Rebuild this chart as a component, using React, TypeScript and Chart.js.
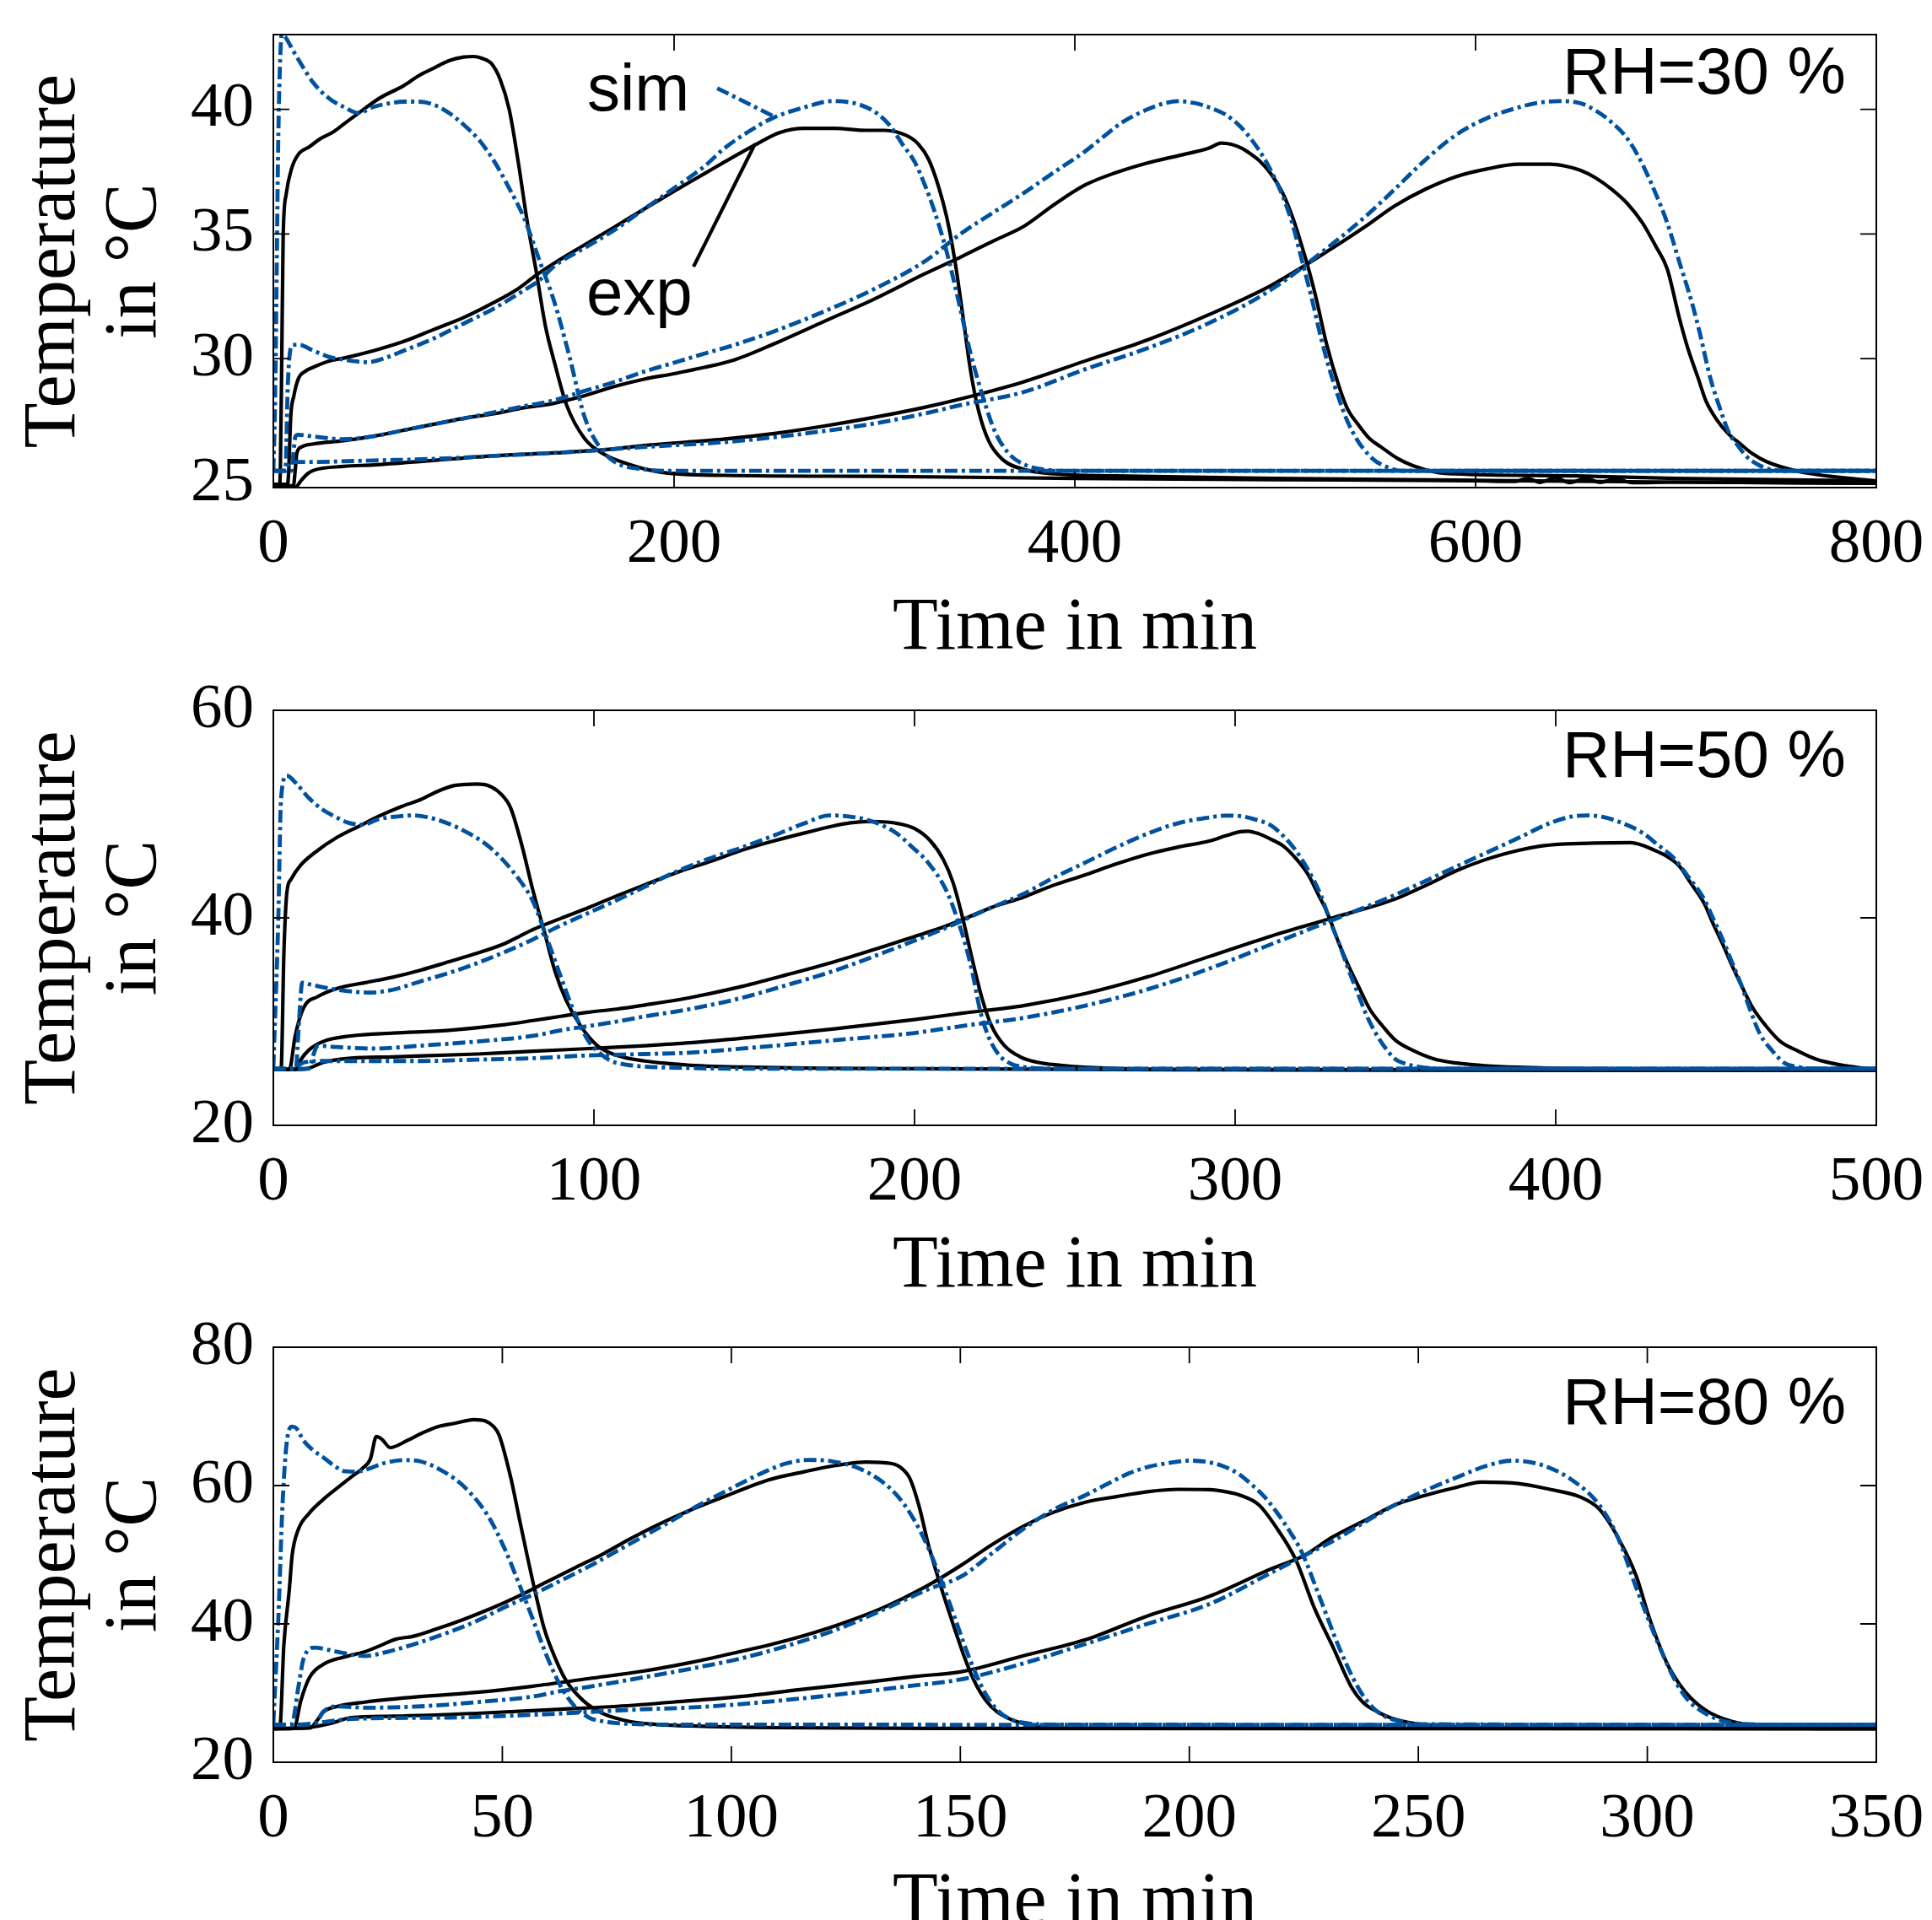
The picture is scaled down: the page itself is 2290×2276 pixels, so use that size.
import React, { useEffect, useRef } from 'react';
import { Chart, registerables } from 'chart.js';

Chart.register(...registerables);

type Pt = [number, number];

// ===================== RH = 30 % =====================
const rh30ExpA: Pt[] = [[0,24.9],[3,24.9],[3.5,25.6],[4.2,30.0],[4.9,34.9],[6.4,36.6],[9,37.6],[12.5,38.2],[18,38.5],[23,38.8],[30,39.1],[35,39.4],[42.5,39.85],[53,40.45],[65,40.95],[72.6,41.35],[80,41.65],[87.6,41.95],[95,42.1],[100,42.12],[104,42.05],[108.7,41.85],[113.2,41.2],[117.7,40.0],[122.2,37.9],[126.7,35.5],[131.3,33.45],[135.8,31.3],[140.3,29.85],[146.3,28.15],[155.3,26.8],[164.3,26.2],[177.9,25.75],[193,25.45],[225,25.32],[300,25.28],[400,25.2],[500,25.15],[600,25.1],[620,25.08],[626,25.2],[632,25.04],[640,25.22],[647,25.03],[655,25.2],[662,25.04],[670,25.18],[678,25.03],[700,25.05],[800,25.0]];
const rh30SimA: Pt[] = [[0,25.5],[0.8,28],[1.6,33],[2.4,38.5],[3.2,41.5],[4.2,43.0],[6,42.9],[8,42.63],[11,42.2],[14,41.8],[20,41.06],[27.5,40.46],[35,40.1],[42.5,39.86],[50,40.1],[57.6,40.24],[65,40.31],[72.6,40.31],[80,40.19],[87.6,39.86],[95.2,39.37],[102.7,38.77],[110.2,37.92],[117.7,36.84],[125.2,35.63],[132.8,33.94],[140.3,32.26],[147.8,30.08],[155.3,27.67],[162.8,26.46],[170.3,25.86],[185,25.56],[200,25.5],[800,25.5]];
const rh30ExpB: Pt[] = [[0,24.9],[7,24.9],[7.6,25.4],[8.7,27.7],[10.2,28.5],[12.5,29.2],[16,29.5],[20,29.66],[27.5,29.9],[35,30.02],[50,30.32],[65,30.69],[80,31.17],[95,31.65],[110,32.25],[122,32.8],[131,33.34],[140,33.82],[155,34.55],[170,35.27],[185,36.0],[200,36.72],[215.5,37.44],[224.5,37.86],[240.3,38.57],[252.6,39.07],[265,39.24],[280,39.24],[296,39.16],[305,39.16],[316,38.95],[322,38.6],[327,38.0],[332,36.9],[336,35.7],[340,34.0],[344,31.8],[348,29.5],[352,27.9],[357,26.7],[364,25.95],[375,25.55],[390,25.38],[420,25.3],[500,25.2],[600,25.12],[700,25.05],[800,25.0]];
const rh30SimB: Pt[] = [[0,25.5],[6,25.5],[7.2,28.9],[8.7,30.45],[10,30.55],[12.5,30.56],[20,30.32],[27.5,30.08],[35,29.96],[47,29.86],[57.6,30.08],[65,30.32],[80,30.81],[95,31.41],[110,32.01],[125,32.74],[133,33.16],[140,33.7],[155,34.43],[170,35.15],[185,36.0],[200,36.84],[215.5,37.74],[224.5,38.4],[237,39.1],[249.4,39.66],[265,40.08],[278.8,40.33],[290,40.25],[296,40.08],[302,39.8],[308,39.32],[314,38.6],[320,37.9],[325,37.0],[330,35.9],[336,34.3],[342,32.3],[348,30.2],[354,28.5],[360,27.1],[367,26.2],[375,25.75],[385,25.55],[400,25.5],[800,25.5]];
const rh30ExpC: Pt[] = [[0,24.9],[10,24.9],[11,25.6],[11.7,26.2],[14,26.46],[20,26.58],[35,26.71],[50,26.89],[65,27.13],[80,27.37],[95,27.61],[110,27.79],[125,28.03],[140,28.21],[155,28.51],[170,28.88],[185,29.18],[200,29.4],[215,29.65],[230,29.95],[250,30.6],[275,31.5],[300,32.4],[325,33.4],[343.6,34.1],[360,34.75],[374.4,35.3],[390,36.2],[405.2,36.97],[420,37.45],[436.2,37.85],[452,38.15],[467,38.45],[473,38.65],[478,38.6],[483,38.45],[488,38.2],[492,37.95],[498,37.4],[504,36.6],[509,35.6],[513,34.6],[517,33.5],[520.5,32.4],[525.6,30.6],[531.8,28.9],[536,28.0],[541,27.4],[547,26.8],[553,26.45],[561,26.0],[569,25.7],[580,25.45],[590,25.38],[650,25.3],[700,25.2],[800,25.1]];
const rh30SimC: Pt[] = [[0,25.5],[9,25.5],[10,26.2],[11,26.88],[12.5,26.95],[20,26.88],[35,26.77],[50,26.89],[65,27.13],[80,27.37],[95,27.6],[110,27.85],[125,28.09],[140,28.33],[155,28.7],[170,29.06],[185,29.48],[200,29.84],[215,30.2],[230,30.55],[250,31.1],[275,31.9],[300,32.8],[325,33.9],[343.6,35.04],[360,35.9],[374.4,36.64],[390,37.5],[405.2,38.32],[415,38.95],[423.8,39.49],[436.2,40.0],[445,40.25],[451.6,40.33],[460,40.25],[467,40.08],[475,39.8],[482.5,39.32],[489,38.7],[494.9,37.98],[500,37.2],[504,36.47],[509,35.3],[513.3,33.95],[518,32.5],[522.6,30.92],[527,29.6],[531.8,28.4],[536,27.5],[541.1,26.72],[546,26.2],[550.3,25.88],[556,25.65],[562.7,25.5],[800,25.5]];
const rh30ExpD: Pt[] = [[0,24.85],[11,24.85],[14,25.13],[17,25.38],[20,25.52],[35,25.68],[50,25.74],[80,25.92],[110,26.1],[140,26.22],[164,26.34],[185,26.52],[224.5,26.77],[250,27.0],[275,27.3],[300,27.65],[325,28.05],[343.6,28.4],[374.4,29.07],[405.2,29.91],[436.2,30.75],[467,31.77],[498,32.94],[528.8,34.45],[545,35.3],[559.7,36.13],[575,36.8],[590.5,37.31],[605,37.6],[621.5,37.8],[637,37.8],[645,37.72],[652.2,37.56],[660,37.25],[667.8,36.8],[676,36.2],[683.2,35.46],[690,34.5],[695.6,33.61],[701.8,31.6],[706,30.4],[711,29.24],[715,28.3],[720.3,27.56],[726,27.0],[732.6,26.55],[738,26.2],[745,25.88],[760,25.5],[776,25.29],[800,25.1]];
const rh30SimD: Pt[] = [[0,25.5],[6,25.5],[7.5,25.75],[8.7,25.86],[20,25.86],[50,25.92],[80,25.98],[110,26.1],[140,26.22],[164,26.34],[185,26.46],[224.5,26.65],[250,26.85],[275,27.1],[300,27.4],[325,27.8],[343.6,28.15],[374.4,28.66],[405.2,29.58],[436.2,30.42],[467,31.43],[498,32.77],[528.8,34.62],[545,35.7],[559.7,36.8],[575,37.98],[590.5,38.99],[606,39.66],[621.5,40.08],[630,40.25],[641.5,40.33],[652.2,40.25],[660,39.95],[667.8,39.49],[676,38.8],[683.2,37.81],[690,36.6],[695.6,35.46],[702,33.8],[707.9,32.27],[712,31.0],[717.1,29.24],[722,28.0],[726.3,27.06],[731,26.5],[735.6,26.05],[741,25.75],[748,25.54],[760,25.5],[800,25.5]];
const rh30XTicks = [0, 200, 400, 600, 800];
const rh30YTicks = [25, 30, 35, 40];
// annotation leader lines ("sim" and "exp") in data units
const simLeader: Pt[] = [[221.5, 40.85], [251, 39.67]];
const expLeader: Pt[] = [[209.7, 33.69], [240.4, 38.62]];

// ===================== RH = 50 % =====================
const rh50ExpA: Pt[] = [[0,25.4],[2.4,25.4],[3.3,36.7],[4.2,42.4],[5.5,43.7],[8.5,45.07],[12.9,46.28],[19.9,47.76],[26.8,48.84],[33,49.8],[40,50.73],[46,51.4],[51.3,52.2],[56.5,52.75],[60,52.85],[63.5,52.9],[67,52.75],[70.5,52.08],[74,50.6],[77.5,47.0],[81,42.6],[84.4,38.8],[87.9,34.8],[91.4,32.0],[95.8,29.6],[101,27.7],[107.1,26.74],[115.9,26.2],[124.6,25.93],[130,25.79],[150,25.6],[200,25.45],[300,25.35],[400,25.3],[500,25.3]];
const rh50SimA: Pt[] = [[0,25.6],[1.5,39.4],[2.4,51.5],[4.2,53.7],[7,53.0],[11.1,51.54],[15,50.5],[19.9,49.65],[23,49.2],[27.7,48.98],[33,49.52],[38,49.75],[43.4,49.87],[50.4,49.52],[59.1,48.44],[67.9,46.69],[76.6,43.72],[81,41.57],[85.3,38.06],[89.7,34.28],[94,30.78],[98.4,28.08],[102,26.9],[105.4,26.2],[110,25.85],[115.9,25.66],[130,25.52],[150,25.45],[500,25.45]];
const rh50ExpB: Pt[] = [[0,25.4],[5,25.4],[6.8,28.6],[9.4,31.32],[13.8,32.4],[19.9,33.2],[28.6,33.75],[37.3,34.28],[46,34.96],[54.8,35.77],[63.5,36.58],[72.2,37.52],[76.6,38.19],[81,38.87],[89.7,39.95],[98.4,41.0],[107,42.1],[116,43.2],[127,44.5],[137,45.5],[146,46.5],[156,47.4],[166,48.2],[174,48.8],[180,49.15],[185,49.28],[190,49.25],[194.6,49.1],[200,48.6],[205,47.4],[209,45.6],[212,43.4],[215,40.0],[218,36.0],[221,32.3],[224,29.6],[228,27.7],[233,26.6],[238,26.1],[245,25.8],[253,25.6],[275,25.4],[500,25.3]];
const rh50SimB: Pt[] = [[0,25.45],[7,25.45],[8,30],[9,33.75],[11.1,33.61],[19.9,33.07],[30.3,32.8],[37.3,33.07],[46,33.88],[54.8,34.69],[63.5,35.63],[72.2,36.71],[81,37.92],[85.3,38.6],[89.7,39.27],[98.4,40.49],[107.1,41.7],[115.9,43.0],[124.6,44.3],[135,45.6],[146.3,46.8],[155,47.8],[165.6,49.1],[173.4,49.87],[180,49.75],[185,49.47],[190,48.9],[194.6,48.1],[199,46.9],[204.2,45.33],[210,42.58],[213,40.2],[215.8,37.5],[218,34.8],[220.5,31.0],[223,28.6],[226.3,26.8],[230,25.95],[234,25.63],[245,25.45],[500,25.45]];
const rh50ExpC: Pt[] = [[0,25.4],[7,25.4],[8.5,26.3],[11.1,27.27],[15.5,28.08],[24.2,28.62],[37.3,28.89],[54.8,29.16],[72.2,29.7],[81,30.1],[89.7,30.51],[98.4,30.91],[107.1,31.2],[115.9,31.6],[129.8,32.3],[145,33.3],[160,34.5],[175.3,35.8],[190,37.2],[200,38.2],[208,39.0],[214.7,39.8],[224,41.0],[234,42.0],[243,43.1],[253.3,44.15],[263,45.2],[272.6,46.12],[282,46.8],[291.9,47.4],[297,47.9],[301.6,48.3],[304,48.35],[307.4,48.1],[311,47.6],[315.1,46.9],[319,45.7],[322.8,44.15],[326,42.2],[328.6,40.6],[332.5,37.45],[335.5,35.3],[338.3,33.5],[342,31.2],[346,29.57],[350,28.2],[355.6,27.2],[362,26.4],[369.1,26.0],[378,25.75],[388.5,25.6],[410,25.45],[500,25.35]];
const rh50SimC: Pt[] = [[0,25.45],[11,25.45],[12.5,26.8],[13.8,27.68],[19.9,27.55],[31.2,27.4],[46,27.68],[63.5,28.08],[81,28.62],[89.7,29.16],[98.4,29.57],[107.1,30.0],[115.9,30.5],[129.8,31.2],[145,32.2],[160,33.5],[175,34.9],[190,36.6],[200,37.8],[208,38.8],[214.7,39.7],[224,41.0],[234,42.3],[243,43.8],[253.3,45.33],[263,46.8],[272.6,48.1],[282,49.1],[291.9,49.67],[297,49.85],[301.6,49.8],[306,49.5],[311.2,48.9],[315,47.9],[318.9,46.5],[322.8,44.6],[326.7,42.2],[329.5,39.8],[332.5,37.45],[335.5,34.9],[338.3,32.7],[341,30.6],[344,28.8],[347,27.4],[349.8,26.42],[353,25.95],[357.6,25.63],[365,25.45],[500,25.45]];
const rh50ExpD: Pt[] = [[0,25.4],[8.5,25.4],[11,25.5],[15.5,26.06],[24.2,26.47],[37.3,26.6],[63.5,26.87],[81,27.14],[98.4,27.4],[115.9,27.68],[129.8,27.95],[150,28.5],[175,29.3],[200,30.2],[214.7,30.8],[234,31.54],[253.3,32.7],[272.6,34.3],[291.9,36.27],[311.2,38.24],[330.5,40.0],[349.8,41.8],[360,43.2],[369.1,44.55],[378,45.6],[388.4,46.5],[395,46.9],[401.9,47.1],[412,47.2],[423.2,47.24],[427,47.0],[430.9,46.5],[434.8,45.9],[438.6,44.96],[442,43.4],[446.3,41.4],[449,39.5],[452.1,37.45],[455,35.4],[457.9,33.5],[461.5,31.3],[465.6,29.57],[470,28.1],[475.3,27.2],[481,26.4],[488.8,25.82],[495,25.55],[500,25.4]];
const rh50SimD: Pt[] = [[0,25.45],[6.8,25.45],[8,25.8],[10,26.1],[16.4,26.2],[28.6,26.2],[46,26.2],[63.5,26.33],[81,26.47],[98.4,26.74],[115.9,26.87],[129.8,27.0],[150,27.5],[175,28.2],[200,28.9],[214.7,29.57],[234,30.36],[253.3,31.54],[272.6,33.1],[291.9,35.1],[311.2,37.45],[330.5,39.8],[349.8,42.2],[369.1,44.96],[388.4,47.7],[398,49.1],[404,49.7],[409.7,49.87],[415,49.7],[421,49.1],[427,48.2],[432,47.0],[436.7,45.8],[441,44.1],[446.3,41.8],[449,40.0],[452.1,37.9],[455,35.7],[457.9,33.5],[460.8,31.0],[463.7,28.8],[467.5,27.2],[471.4,26.0],[476,25.6],[482,25.45],[500,25.45]];
const rh50XTicks = [0, 100, 200, 300, 400, 500];
const rh50YTicks = [20, 40, 60];

// ===================== RH = 80 % =====================
const rh80ExpA: Pt[] = [[0,24.85],[1.4,24.9],[2.3,37.0],[3.5,45.06],[4.1,49.92],[5.4,53.56],[7.8,55.98],[10.9,58.0],[13.9,59.62],[17,61.24],[19.4,62.45],[21.2,63.87],[22.5,67.1],[23.7,66.7],[25.5,65.49],[29.2,66.5],[32.2,67.5],[35.9,68.52],[39.6,69.0],[43.8,69.53],[46.3,69.33],[48.1,68.52],[49.3,67.3],[51.8,61.24],[53.6,55.58],[55.4,49.92],[57.3,44.26],[59.1,39.4],[61.6,34.96],[64,31.72],[67.7,28.89],[71.9,27.07],[78.1,25.86],[84.2,25.45],[90.9,25.25],[110,25.0],[150,24.9],[350,24.85]];
const rh80SimA: Pt[] = [[0,25.65],[1.1,41.0],[2.0,57.2],[2.9,66.1],[4.1,68.52],[5,68.3],[6.6,66.5],[8.5,65.2],[10.9,64.07],[13,63.0],[15.7,62.05],[18,62.0],[20,62.25],[24.3,63.26],[28.6,63.67],[32.2,63.47],[37.1,62.05],[42,59.62],[46.9,55.58],[50.6,50.73],[53.6,45.87],[56.7,40.6],[59.7,35.36],[62.8,30.91],[65.8,28.08],[68.9,26.46],[72,25.9],[75,25.65],[85,25.45],[350,25.4]];
const rh80ExpB: Pt[] = [[0,24.85],[4.5,24.9],[6,28.89],[7.8,32.13],[10.9,34.15],[15.1,35.16],[20,35.97],[23.7,36.97],[26.7,37.79],[30.4,38.19],[35.3,39.2],[41.4,40.62],[47.5,42.23],[53.6,44.05],[59.7,46.08],[65.8,48.1],[72,50.12],[78.1,52.35],[84.2,54.4],[90.9,56.4],[100,58.8],[108,60.8],[115.9,62.0],[122.7,62.9],[129.5,63.4],[134.8,63.2],[137,62.6],[139,61.0],[141,57.0],[143,51.5],[145,47.0],[147,42.8],[149,38.8],[151,35.0],[153,31.8],[155.5,29.0],[158,27.3],[161,26.2],[165,25.4],[170,25.0],[180,24.92],[350,24.85]];
const rh80SimB: Pt[] = [[0,25.4],[4,25.5],[5.5,31],[6.6,34.96],[9,36.57],[11,36.4],[14,35.97],[20,35.36],[24.9,35.97],[32.2,37.38],[38.3,38.8],[44.4,40.42],[50.6,42.44],[56.7,44.26],[62.8,46.28],[68.9,48.3],[75,50.53],[81.1,52.75],[87.2,55.0],[93,57.2],[100,59.6],[106,61.6],[112,63.2],[117,63.7],[122,63.5],[127,62.7],[132,61.0],[136,58.7],[139.5,55.5],[143,51.0],[146,46.0],[149,40.5],[152,35.0],[155,30.5],[158,27.6],[161,26.2],[165,25.6],[170,25.45],[350,25.4]];
const rh80ExpC: Pt[] = [[0,24.85],[8,24.95],[9.5,26.0],[10.9,27.27],[14,28.08],[20,28.69],[32.2,29.5],[44.4,30.1],[56.7,31.0],[68.9,32.1],[81,33.2],[91,34.4],[102,36.0],[112,37.6],[123,39.8],[133,42.3],[143,45.6],[150,48.4],[157,51.5],[164,54.2],[170.6,56.2],[177.3,57.6],[184.1,58.4],[190.8,59.1],[197.6,59.45],[204.4,59.4],[208,59.1],[211.1,58.6],[215.2,57.2],[219.2,53.74],[223.3,49.2],[227.3,42.3],[231.4,36.6],[235.4,30.85],[238,28.6],[240.8,27.4],[244,26.4],[247.6,25.8],[255,25.2],[265,24.95],[350,24.85]];
const rh80SimC: Pt[] = [[0,25.4],[9,25.5],[10.9,27.3],[14,28.08],[20,27.88],[32.2,28.08],[44.4,28.69],[56.7,29.5],[62.8,30.3],[68.9,30.91],[81,32.3],[91,33.5],[102,35.0],[112,36.8],[123,39.2],[133,42.0],[143,45.0],[150.3,46.9],[157.1,50.3],[163.8,53.74],[170.6,56.6],[177.3,58.6],[182,60.2],[186.8,61.76],[191,62.7],[194.9,63.2],[200.3,63.6],[204,63.4],[207,62.9],[210.5,61.8],[213.8,60.04],[216.5,58.3],[219.2,56.04],[222,53.3],[224.6,50.3],[228.7,43.44],[232.7,36.6],[236.8,30.85],[239.5,28.3],[242.2,26.8],[246,25.9],[250,25.5],[350,25.4]];
const rh80ExpD: Pt[] = [[0,24.85],[7.8,25.05],[12.7,25.65],[17,26.46],[26.1,26.66],[44.4,27.07],[62.8,27.67],[75,28.08],[90.9,28.89],[102,29.5],[115,30.5],[130,31.6],[140,32.4],[150.3,33.1],[163.8,35.4],[177.3,37.7],[190.8,41.14],[204.4,44.0],[218,48.0],[224.6,49.73],[231.4,52.6],[238.1,54.88],[244.9,57.2],[251.6,58.6],[258.4,59.76],[263.8,60.5],[271.9,60.3],[278.7,59.46],[285.4,58.33],[289.5,56.6],[293.5,52.6],[297.6,46.9],[300.3,41.14],[304.3,34.3],[307,31.3],[309.7,29.14],[313,27.4],[316.5,26.3],[321,25.5],[326,25.1],[335,24.9],[350,24.85]];
const rh80SimD: Pt[] = [[0,25.4],[7,25.5],[12,25.9],[17,26.26],[38.3,26.46],[56.7,26.86],[68.9,27.27],[81.1,27.67],[90.9,27.9],[102,28.4],[115,29.2],[130,30.3],[140,31.1],[150.3,32.0],[163.8,34.3],[177.3,37.1],[190.8,40.0],[204.4,42.87],[218,47.44],[224.6,49.7],[231.4,52.0],[238,54.6],[244.9,57.2],[251.6,59.3],[258.4,61.18],[265.1,62.9],[270.5,63.6],[277.3,62.9],[284,60.6],[289.5,57.2],[293.5,52.6],[297.6,45.2],[302.4,37.1],[306.4,31.4],[309,28.9],[311.8,27.4],[315,26.3],[318.6,25.7],[325,25.45],[350,25.4]];
const rh80XTicks = [0, 50, 100, 150, 200, 250, 300, 350];
const rh80YTicks = [20, 40, 60, 80];

// ===================== styling / layout =====================
const SIM_BLUE = '#00529E';
const SERIF = '"Liberation Serif", "Times New Roman", serif';
const SANS = '"Liberation Sans", Arial, Helvetica, sans-serif';
const PAGE_W = 2290;
const PAGE_H = 2276;
const PLOT_LEFT = 324;
const PLOT_RIGHT = 2224;
const EXP_WIDTH = 4.2;
const SIM_WIDTH = 4.8;
const SIM_DASH = [15, 5, 4, 5];

interface TextMark { text: string; x: number; y: number; align: CanvasTextAlign }
interface PanelSpec {
  exp: Pt[][];
  sim: Pt[][];
  leaders?: { sim: Pt[]; exp: Pt[] };
  xMax: number; yMin: number; yMax: number;
  xTicks: number[]; yTicks: number[];
  texts: TextMark[];
  canvasTop: number; canvasHeight: number; plotTop: number; plotBottom: number;
}

const panels: PanelSpec[] = [
  {
    exp: [rh30ExpA, rh30ExpB, rh30ExpC, rh30ExpD],
    sim: [rh30SimA, rh30SimB, rh30SimC, rh30SimD],
    leaders: { sim: simLeader, exp: expLeader },
    xMax: 800, yMin: 24.83, yMax: 43, xTicks: rh30XTicks, yTicks: rh30YTicks,
    texts: [
      { text: 'RH=30 %', x: 784.8, y: 40.62, align: 'right' },
      { text: 'sim', x: 156.6, y: 39.94, align: 'left' },
      { text: 'exp', x: 156.2, y: 31.77, align: 'left' },
    ],
    canvasTop: 0, canvasHeight: 800, plotTop: 41, plotBottom: 578,
  },
  {
    exp: [rh50ExpA, rh50ExpB, rh50ExpC, rh50ExpD],
    sim: [rh50SimA, rh50SimB, rh50SimC, rh50SimD],
    xMax: 500, yMin: 20, yMax: 60, xTicks: rh50XTicks, yTicks: rh50YTicks,
    texts: [{ text: 'RH=50 %', x: 490.5, y: 53.58, align: 'right' }],
    canvasTop: 780, canvasHeight: 800, plotTop: 842, plotBottom: 1334,
  },
  {
    exp: [rh80ExpA, rh80ExpB, rh80ExpC, rh80ExpD],
    sim: [rh80SimA, rh80SimB, rh80SimC, rh80SimD],
    xMax: 350, yMin: 20, yMax: 80, xTicks: rh80XTicks, yTicks: rh80YTicks,
    texts: [{ text: 'RH=80 %', x: 343.4, y: 68.9, align: 'right' }],
    canvasTop: 1560, canvasHeight: 800, plotTop: 1597, plotBottom: 2089,
  },
];

const framePlugin = {
  id: 'frame',
  afterDraw(chart: any, _args: any, opts: any) {
    const { ctx, chartArea } = chart;
    const { left, right, top, bottom } = chartArea;
    const xs = chart.scales.x;
    const ys = chart.scales.y;
    const tl = 19;
    ctx.save();
    ctx.strokeStyle = '#000';
    ctx.lineWidth = 1.8;
    ctx.beginPath();
    xs.ticks.forEach((t: any) => {
      const px = xs.getPixelForValue(t.value);
      ctx.moveTo(px, bottom); ctx.lineTo(px, bottom - tl);
      ctx.moveTo(px, top); ctx.lineTo(px, top + tl);
    });
    ys.ticks.forEach((t: any) => {
      const py = ys.getPixelForValue(t.value);
      ctx.moveTo(left, py); ctx.lineTo(left + tl, py);
      ctx.moveTo(right, py); ctx.lineTo(right - tl, py);
    });
    ctx.stroke();
    ctx.lineWidth = 2;
    ctx.strokeRect(left, top, right - left, bottom - top);
    ctx.fillStyle = '#000';
    ctx.font = `78px ${SANS}`;
    ctx.textBaseline = 'alphabetic';
    (opts.texts || []).forEach((t: TextMark) => {
      ctx.textAlign = t.align;
      ctx.fillText(t.text, xs.getPixelForValue(t.x), ys.getPixelForValue(t.y));
    });
    ctx.restore();
  },
};

function PanelChart({ spec }: { spec: PanelSpec }) {
  const ref = useRef<HTMLCanvasElement | null>(null);
  useEffect(() => {
    const canvas = ref.current;
    if (!canvas) return;
    const toXY = (arr: Pt[]) => arr.map(([x, y]) => ({ x, y }));
    const datasets: any[] = [];
    spec.exp.forEach((d) =>
      datasets.push({
        data: toXY(d), borderColor: '#000', borderWidth: EXP_WIDTH, pointRadius: 0,
        cubicInterpolationMode: 'monotone', tension: 0.4, fill: false, order: 2,
      })
    );
    spec.sim.forEach((d) =>
      datasets.push({
        data: toXY(d), borderColor: SIM_BLUE, borderWidth: SIM_WIDTH, borderDash: SIM_DASH,
        pointRadius: 0, cubicInterpolationMode: 'monotone', tension: 0.4, fill: false, order: 1,
      })
    );
    if (spec.leaders) {
      datasets.push({ data: toXY(spec.leaders.exp), borderColor: '#000', borderWidth: EXP_WIDTH, pointRadius: 0, fill: false, order: 0 });
      datasets.push({ data: toXY(spec.leaders.sim), borderColor: SIM_BLUE, borderWidth: SIM_WIDTH, borderDash: SIM_DASH, pointRadius: 0, fill: false, order: 0 });
    }
    const xAxisHeight = spec.canvasTop + spec.canvasHeight - spec.plotBottom;
    const titleCenter = spec.plotBottom + 168;
    const xTitleSize = 88;
    const xTitlePb = spec.canvasTop + spec.canvasHeight - (xTitleSize * 1.2) / 2 - titleCenter;
    const chart = new Chart(canvas, {
      type: 'line',
      data: { datasets },
      options: {
        animation: false,
        responsive: false,
        maintainAspectRatio: false,
        events: [],
        layout: { padding: { top: spec.plotTop - spec.canvasTop, right: PAGE_W - PLOT_RIGHT, left: 0, bottom: 0 } },
        plugins: {
          legend: { display: false },
          tooltip: { enabled: false },
          frame: { texts: spec.texts },
        } as any,
        scales: {
          x: {
            type: 'linear', min: 0, max: spec.xMax,
            afterBuildTicks: (s: any) => { s.ticks = spec.xTicks.map((v) => ({ value: v })); },
            afterFit: (s: any) => { s.height = xAxisHeight; s.paddingLeft = 0; s.paddingRight = 0; },
            grid: { display: false, drawTicks: false },
            border: { display: false },
            ticks: { padding: 23, color: '#000', font: { family: SERIF, size: 75 }, maxRotation: 0, autoSkip: false },
            title: {
              display: true, text: 'Time in min', color: '#000',
              font: { family: SERIF, size: xTitleSize, lineHeight: 1.2 },
              padding: { top: 0, bottom: xTitlePb },
            },
          },
          y: {
            type: 'linear', min: spec.yMin, max: spec.yMax,
            afterBuildTicks: (s: any) => { s.ticks = spec.yTicks.map((v) => ({ value: v })); },
            afterFit: (s: any) => { s.width = PLOT_LEFT; s.paddingTop = 0; s.paddingBottom = 0; },
            grid: { display: false, drawTicks: false },
            border: { display: false },
            ticks: { padding: 23, color: '#000', font: { family: SERIF, size: 75 }, autoSkip: false },
            title: {
              display: true, text: ['Temperature', 'in °C'], color: '#000',
              font: { family: SERIF, size: 88, lineHeight: 96 / 88 },
              padding: { top: 17, bottom: 0 },
            },
          },
        },
      } as any,
      plugins: [framePlugin],
    });
    return () => chart.destroy();
  }, [spec]);
  return (
    <canvas
      ref={ref}
      width={PAGE_W}
      height={spec.canvasHeight}
      style={{ position: 'absolute', left: 0, top: spec.canvasTop, width: PAGE_W, height: spec.canvasHeight }}
    />
  );
}

export default function App() {
  return (
    <div style={{ position: 'fixed', left: 0, top: 0, width: PAGE_W, height: PAGE_H, overflow: 'hidden', background: '#fff' }}>
      {panels.map((p, i) => (
        <PanelChart key={i} spec={p} />
      ))}
    </div>
  );
}
